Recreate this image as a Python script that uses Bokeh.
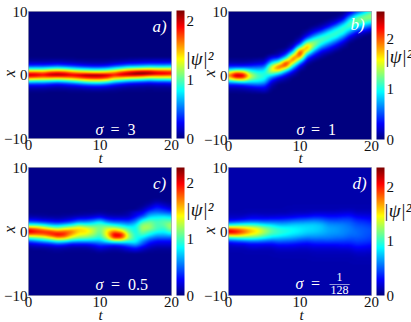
import numpy as np
from bokeh.plotting import figure
from bokeh.models import LinearColorMapper, ColorBar, FixedTicker, Label, Range1d
from bokeh.layouts import row, column
from bokeh.embed import file_html
from bokeh.resources import INLINE

# |psi|^2 cross-sections: one per t = 0..20, x step 0.5,
# each beginning at the x given in *_start.
a_start = [-2.5] * 21
a_cols = [
 [.04,.15,.4,.95,1.7,2.1,1.7,.95,.4,.15,.04],
 [.04,.14,.4,.9,1.65,2.05,1.7,.95,.42,.15,.04],
 [.04,.14,.4,.9,1.6,1.95,1.65,.95,.42,.15,.04],
 [.03,.12,.35,.85,1.6,2.12,1.8,1.05,.45,.16,.05],
 [.03,.1,.3,.8,1.55,2.17,1.85,1.1,.5,.18,.05],
 [.03,.12,.35,.85,1.6,2.12,1.8,1.05,.45,.16,.05],
 [.04,.14,.4,.95,1.65,2.0,1.65,.95,.4,.14,.04],
 [.04,.16,.48,1.05,1.75,2.05,1.55,.85,.35,.12,.03],
 [.05,.2,.55,1.2,1.85,2.14,1.5,.8,.3,.1,.03],
 [.06,.22,.6,1.25,1.9,2.15,1.45,.75,.28,.09,.03],
 [.06,.22,.6,1.25,1.9,2.12,1.45,.75,.28,.09,.03],
 [.05,.2,.52,1.15,1.8,2.05,1.5,.8,.32,.1,.03],
 [.04,.14,.4,.9,1.55,1.9,1.6,.95,.42,.15,.04],
 [.03,.1,.32,.8,1.5,2.05,1.8,1.1,.5,.18,.05],
 [.02,.08,.25,.7,1.4,2.1,1.95,1.25,.6,.22,.07],
 [.02,.07,.22,.65,1.35,2.12,2.1,1.3,.62,.24,.08],
 [.02,.06,.2,.6,1.3,2.05,2.17,1.35,.66,.26,.09],
 [.02,.05,.18,.55,1.2,1.95,2.12,1.4,.7,.28,.1],
 [.02,.06,.2,.6,1.25,1.85,2.0,1.35,.68,.28,.1],
 [.02,.06,.2,.6,1.25,1.85,1.95,1.35,.68,.28,.1],
 [.02,.07,.22,.62,1.25,1.8,1.9,1.35,.7,.3,.1],
]
b_start = [-2.5,-2.5,-2.5,-2.5,-2.5,-2.5,-2,-1,-1,0,1,2,2.5,3,3.5,4,4.5,5.5,6,6.5,7]
b_cols = [
 [.04,.12,.35,.8,1.5,1.9,1.5,.8,.35,.12,.04],
 [.04,.12,.35,.9,1.9,2.5,1.9,.9,.35,.12,.04],
 [.05,.15,.4,1.0,1.9,2.4,1.8,.9,.35,.12,.04],
 [.08,.2,.5,.9,1.35,1.5,1.2,.8,.4,.15,.05],
 [.1,.25,.55,.9,1.1,1.15,1.0,.75,.45,.2,.08],
 [.15,.3,.5,.8,1.0,1.05,1.0,.8,.5,.25,.1],
 [.05,.12,.25,.5,.9,1.4,1.6,1.4,.9,.5,.2],
 [.08,.25,.6,1.2,1.9,1.95,1.25,.65,.25,.08,.03],
 [.03,.1,.3,.65,1.3,2.1,2.2,1.35,.7,.3,.1],
 [.08,.25,.55,1.0,1.6,2.05,1.8,1.1,.55,.2,.07],
 [.1,.3,.7,1.3,2.0,2.3,1.9,1.1,.5,.2,.06],
 [.1,.3,.6,1.1,1.7,1.9,1.5,.9,.45,.2,.07],
 [.1,.25,.5,.85,1.2,1.35,1.2,.85,.5,.25,.1],
 [.1,.2,.4,.7,1.0,1.15,1.1,.8,.45,.2,.08],
 [.1,.25,.45,.7,1.0,1.1,1.05,.8,.45,.2,.08],
 [.1,.25,.45,.7,1.0,1.1,1.05,.8,.45,.2,.08],
 [.08,.2,.4,.65,.95,1.1,1.1,.85,.5,.22,.08],
 [.1,.25,.5,.8,1.05,1.2,1.05,.8,.45,.2],
 [.08,.2,.45,.8,1.05,1.25,1.2,.9,.5],
 [.1,.3,.6,.9,1.2,1.3,1.15,.8],
 [.15,.4,.7,1.0,1.3,1.35,1.1],
]
c_start = [-3] * 21
c_cols = [
 [.03,.08,.2,.5,1.0,1.7,2.15,1.8,1.0,.5,.2,.08,.03],
 [.03,.1,.25,.6,1.1,1.7,2.0,1.7,1.0,.45,.2,.07,.03],
 [.03,.1,.3,.7,1.2,1.75,1.95,1.5,.9,.4,.15,.06,.03],
 [.05,.12,.35,.8,1.4,1.9,1.9,1.3,.75,.35,.15,.05,.03],
 [.06,.15,.45,.95,1.65,2.05,1.75,1.15,.7,.3,.12,.05,.03],
 [.05,.13,.4,.9,1.6,1.95,1.8,1.3,.8,.35,.15,.06,.03],
 [.04,.1,.3,.75,1.3,1.6,1.75,1.4,.9,.45,.2,.08,.03],
 [.04,.1,.3,.7,1.15,1.4,1.5,1.5,1.1,.6,.3,.1,.04],
 [.04,.1,.3,.7,1.1,1.35,1.5,1.4,1.0,.6,.3,.12,.05],
 [.06,.15,.35,.7,1.0,1.2,1.3,1.25,1.0,.7,.35,.15,.05],
 [.12,.25,.45,.7,.9,1.0,1.05,1.1,1.05,.85,.45,.2,.07],
 [.08,.2,.45,.9,1.25,1.45,1.45,1.3,1.0,.6,.3,.12,.05],
 [.06,.15,.45,1.1,1.9,2.1,1.75,1.3,.9,.5,.25,.1,.04],
 [.08,.2,.5,1.1,1.85,2.05,1.55,1.15,.8,.5,.25,.1,.04],
 [.15,.3,.6,.95,1.25,1.25,1.1,.95,.7,.45,.25,.12,.08],
 [.2,.4,.7,.9,.9,.9,.85,.85,.8,.6,.4,.25,.2],
 [.12,.25,.45,.6,.8,1.0,1.15,1.25,1.2,1.0,.7,.4,.25,.12,.05],
 [.06,.15,.25,.4,.6,.85,1.0,1.2,1.2,1.1,.9,.7,.5,.3,.15,.06],
 [.05,.1,.2,.3,.5,.7,.9,1.0,1.0,1.0,.9,.75,.55,.4,.3,.15,.06],
 [.05,.1,.2,.3,.5,.7,.85,.95,1.05,1.05,.95,.75,.5,.35,.2,.1],
 [.05,.1,.2,.3,.5,.75,1.0,1.2,1.25,1.1,.9,.7,.45,.25,.12,.05],
]
d_start = [-2.5,-2.5,-2.5,-3,-3,-3,-3,-3.5,-3.5,-3.5,-3.5,-3.5,-4,-4,-4,-4,-4,-4,-4.5,-4.5,-4.5]
d_cols = [
 [.15,.2,.45,.95,1.7,2.25,1.75,.95,.45,.2,.15],
 [.15,.25,.5,1.0,1.75,2.1,1.7,1.0,.5,.2,.15],
 [.15,.25,.55,1.05,1.6,1.9,1.6,1.05,.55,.25,.15],
 [.12,.2,.3,.6,1.05,1.45,1.65,1.5,1.05,.6,.3,.2,.12],
 [.12,.2,.3,.6,1.0,1.35,1.5,1.4,1.0,.6,.3,.2,.12],
 [.12,.18,.3,.55,.9,1.15,1.3,1.2,.9,.55,.3,.18,.12],
 [.12,.18,.3,.5,.8,1.0,1.1,1.05,.85,.55,.32,.18,.12],
 [.12,.15,.22,.35,.55,.75,.95,1.0,.95,.75,.55,.32,.2,.12],
 [.12,.15,.22,.35,.52,.72,.88,.95,.9,.75,.55,.35,.2,.12],
 [.12,.15,.22,.33,.5,.68,.82,.9,.88,.78,.6,.38,.22,.15,.12],
 [.12,.14,.2,.3,.45,.62,.78,.85,.85,.78,.62,.42,.25,.15,.12],
 [.12,.14,.2,.28,.42,.58,.72,.8,.82,.78,.64,.44,.26,.15,.12],
 [.12,.13,.16,.22,.32,.45,.6,.7,.78,.8,.78,.66,.48,.3,.18,.12],
 [.12,.13,.16,.22,.32,.45,.58,.68,.74,.76,.74,.62,.46,.3,.18,.12],
 [.12,.13,.16,.22,.32,.46,.58,.64,.68,.68,.64,.54,.4,.28,.18,.12],
 [.12,.13,.16,.22,.32,.45,.55,.62,.66,.66,.62,.52,.4,.28,.18,.12],
 [.12,.13,.16,.24,.34,.44,.54,.6,.62,.62,.6,.52,.42,.3,.2,.13],
 [.12,.13,.17,.24,.33,.42,.5,.55,.58,.58,.55,.5,.42,.32,.21,.14],
 [.12,.13,.16,.22,.3,.38,.45,.5,.54,.54,.52,.48,.42,.34,.24,.16,.12],
 [.12,.13,.16,.21,.28,.36,.43,.48,.5,.5,.5,.46,.4,.32,.23,.16,.12],
 [.12,.13,.15,.2,.26,.33,.4,.44,.46,.48,.46,.42,.36,.29,.22,.16,.12],
]
vmax = {"a": 2.17, "b": 2.55, "c": 2.27, "d": 2.35}
floor = {"a": 0.0, "b": 0.0, "c": 0.03, "d": 0.11}
x_ticks = [0, 10, 20]
y_ticks = [-10, 0, 10]
bar_ticks = [0, 1, 2]
x_tick_labels = {0: "0", 10: "10", 20: "20"}
y_tick_labels = {-10: "\u221210", 0: "0", 10: "10"}

SERIF = "Liberation Serif"
INK = "#111111"
def jet_hex(f):
    r = np.clip(min(4*f-1.5, -4*f+4.5), 0, 1)
    g = np.clip(min(4*f-0.5, -4*f+3.5), 0, 1)
    b = np.clip(min(4*f+0.5, -4*f+2.5), 0, 1)
    return "#%02x%02x%02x" % (int(r*255), int(g*255), int(b*255))
JET = [jet_hex(i/255) for i in range(256)]

def field(starts, cols, bg):
    m = np.full((41, 21), float(bg))
    for j, (s, col) in enumerate(zip(starts, cols)):
        i0 = int(round((s + 10) * 2))
        m[i0:i0+len(col), j] = col
    return m

FW, FH = 143, 128
def soften(m):
    # display resampling only: the reference is a soft raster and Bokeh's image
    # glyph never smooths, so the read grid is drawn at the frame's pixel size.
    tg, xg = np.linspace(0, 20, 21), np.linspace(-10, 10, 41)
    tf, xf = np.linspace(0, 20, FW), np.linspace(-10, 10, FH)
    m = np.array([np.interp(xf, xg, m[:, j]) for j in range(m.shape[1])]).T
    m = np.array([np.interp(tf, tg, m[i, :]) for i in range(m.shape[0])])
    for axis, passes in ((1, 6), (0, 2)):
        for _ in range(passes):
            pad = np.concatenate([np.take(m, [0], axis), m, np.take(m, [-1], axis)], axis)
            m = (np.take(pad, range(0, pad.shape[axis]-2), axis) + 2*m + np.take(pad, range(2, pad.shape[axis]), axis)) / 4
    return m

def panel(key, starts, cols, left, top, right, bottom, margin):
    p = figure(width=left+FW+right, height=top+FH+bottom, min_border_left=left, min_border_right=right,
               min_border_top=top, min_border_bottom=bottom, output_backend="svg", toolbar_location=None,
               x_range=Range1d(0, 20), y_range=Range1d(-10, 10), margin=margin)
    p.border_fill_alpha = 0
    p.background_fill_color = "#00007f"
    p.outline_line_color = "#a8a8b8"
    p.outline_line_width = 1
    p.grid.visible = False
    mapper = LinearColorMapper(palette=JET, low=0, high=vmax[key])
    p.image(image=[soften(field(starts, cols, floor[key]))], x=0, y=-10, dw=20, dh=20, color_mapper=mapper)
    p.xaxis.ticker = FixedTicker(ticks=x_ticks)
    p.yaxis.ticker = FixedTicker(ticks=y_ticks)
    p.xaxis.major_label_overrides = x_tick_labels
    p.yaxis.major_label_overrides = y_tick_labels
    for ax in (p.xaxis[0], p.yaxis[0]):
        ax.major_label_text_font = SERIF
        ax.major_label_text_font_size = "15px"
        ax.major_label_text_color = INK
        ax.major_label_standoff = 1
        ax.axis_line_color = None
        ax.major_tick_line_color = None
        ax.minor_tick_line_color = None
        ax.major_tick_out = 0
        ax.major_tick_in = 0
        ax.minor_tick_out = 0
        ax.minor_tick_in = 0
    bar = ColorBar(color_mapper=mapper, location=(FW+5, 0), width=8, height=FH, padding=0, margin=0,
                   ticker=FixedTicker(ticks=bar_ticks), major_label_text_font=SERIF,
                   major_label_text_font_size="15px", major_label_text_color=INK, label_standoff=2,
                   major_tick_line_color=None, bar_line_color=None, background_fill_alpha=0, border_line_color=None)
    p.add_layout(bar, "center")
    return p

a = panel("a", a_start, a_cols, 28, 10, 47, 26, (0, 0, 0, 0))
b = panel("b", b_start, b_cols, 30, 11, 40, 26, (0, 0, 0, -20))
c = panel("c", c_start, c_cols, 28, 8, 47, 28, (0, 0, 0, 0))
d = panel("d", d_start, d_cols, 30, 8, 40, 28, (0, 0, 0, -20))

# Transparent sheet over the panels for the texts that straddle their frames.
sheet = figure(width=411, height=322, min_border=0, output_backend="svg", toolbar_location=None,
               x_range=Range1d(0, 411), y_range=Range1d(322, 0), x_axis_type=None, y_axis_type=None,
               margin=(-322, 0, 0, 0))
sheet.grid.visible = False
sheet.outline_line_color = None
sheet.background_fill_alpha = 0
sheet.border_fill_alpha = 0
def note(x, y, text, size="16px", color="white", style="normal", angle=0):
    sheet.add_layout(Label(x=x, y=y, text=text, text_font=SERIF, text_font_size=size, text_color=color,
                           text_font_style=style, text_align="center", text_baseline="middle", angle=angle))
for x, y in [(9, 72), (209, 72), (9, 228), (209, 229)]:
    note(x, y, "x", color=INK, style="italic", angle=np.pi/2)
for x, y in [(100, 156), (300, 156), (100, 313), (301, 313)]:
    note(x, y, "t", color=INK, style="italic", size="15px")
for x, y in [(199, 57), (398, 55), (199, 208), (397, 209)]:
    note(x, y, "|\u03c8|\u00b2", size="19px", color=INK, style="italic")
for x, y, s in [(159, 25, "a)"), (357, 23, "b)"), (159, 182, "c)"), (359, 182, "d)")]:
    note(x, y, s, size="17px", style="italic")
for x, y in [(99, 128), (300, 128), (99, 283), (299, 282)]:
    note(x, y, "\u03c3", style="italic")
for x, y, s in [(122.5, 128, "=\u20023"), (323, 128, "=\u20021"), (129, 283, "=\u20020.5"), (315, 282, "=")]:
    note(x, y, s)
note(339, 275, "1", size="12px")
note(339, 288, "128", size="12px")
note(339, 282, "\u2014\u2014", size="10px")

top = row(a, b, spacing=0)
bot = row(c, d, spacing=0, margin=(-6, 0, 0, 0))
page = column(top, bot, sheet, spacing=0, margin=(0, 0, 0, 0))
open("out.html", "w").write(file_html(page, INLINE))
